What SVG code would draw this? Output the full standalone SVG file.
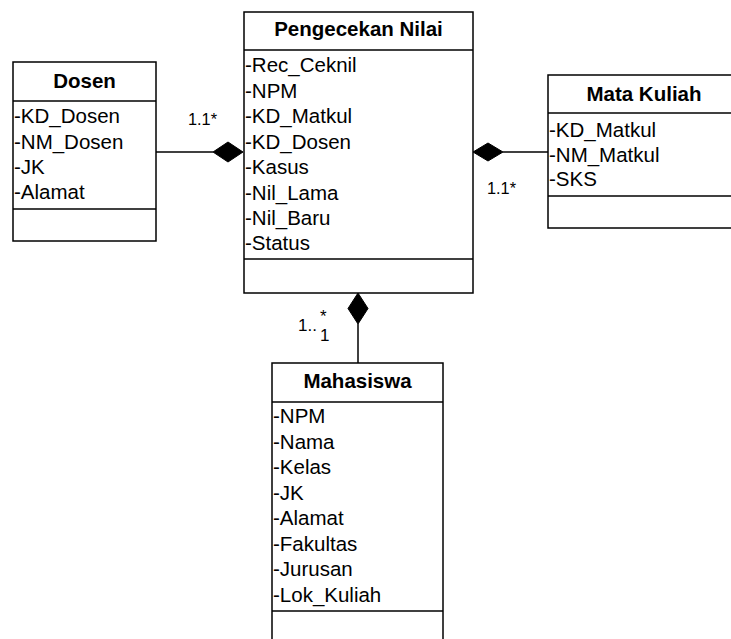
<svg xmlns="http://www.w3.org/2000/svg" width="731" height="639" viewBox="0 0 731 639">
<style>
.box{fill:#fff;stroke:#000;stroke-width:1.5}
.sep{stroke:#000;stroke-width:1.5}
.t{font-family:"Liberation Sans",Arial,sans-serif;font-size:20.5px;font-weight:bold;text-anchor:middle;fill:#000}
.a{font-family:"Liberation Sans",Arial,sans-serif;font-size:20.5px;fill:#000}
.m{font-family:"Liberation Sans",Arial,sans-serif;font-size:17px;fill:#000}
.ln{stroke:#000;stroke-width:1.5;fill:none}
.dia{fill:#000;stroke:#000;stroke-width:1}
</style>
<rect width="731" height="639" fill="#fff"/>
<g id="connectors">
<line class="ln" x1="156" y1="152" x2="213" y2="152"/>
<polygon class="dia" points="213,152 228,142 243,152 228,162"/>
<line class="ln" x1="503" y1="152" x2="548" y2="152"/>
<polygon class="dia" points="473,152 488,143 503,152 488,161"/>
<line class="ln" x1="358" y1="324" x2="358" y2="363"/>
<polygon class="dia" points="358,293 368,308.5 358,324 348,308.5"/>
<text class="m" x="188" y="125" textLength="29" lengthAdjust="spacingAndGlyphs">1.1*</text>
<text class="m" x="487" y="194" textLength="29" lengthAdjust="spacingAndGlyphs">1.1*</text>
<text class="m" x="298" y="331">1..</text>
<text class="m" x="320" y="322">*</text>
<text class="m" x="320" y="341">1</text>
</g>
<g id="dosen">
<rect class="box" x="13" y="62" width="143" height="179"/>
<line class="sep" x1="13" y1="101" x2="156" y2="101"/>
<line class="sep" x1="13" y1="209" x2="156" y2="209"/>
<text class="t" x="84.5" y="88">Dosen</text>
<text class="a" x="14" y="123">-KD_Dosen</text>
<text class="a" x="14" y="148.5">-NM_Dosen</text>
<text class="a" x="14" y="174">-JK</text>
<text class="a" x="14" y="199">-Alamat</text>
</g>
<g id="pengecekan-nilai">
<rect class="box" x="244" y="12" width="229" height="281"/>
<line class="sep" x1="244" y1="50" x2="473" y2="50"/>
<line class="sep" x1="244" y1="259" x2="473" y2="259"/>
<text class="t" x="358.5" y="36">Pengecekan Nilai</text>
<text class="a" x="245" y="72">-Rec_Ceknil</text>
<text class="a" x="245" y="97.5">-NPM</text>
<text class="a" x="245" y="123">-KD_Matkul</text>
<text class="a" x="245" y="148.5">-KD_Dosen</text>
<text class="a" x="245" y="174">-Kasus</text>
<text class="a" x="245" y="199.5">-Nil_Lama</text>
<text class="a" x="245" y="225">-Nil_Baru</text>
<text class="a" x="245" y="250">-Status</text>
</g>
<g id="mata-kuliah">
<rect class="box" x="548" y="75" width="192" height="153"/>
<line class="sep" x1="548" y1="113" x2="740" y2="113"/>
<line class="sep" x1="548" y1="196" x2="740" y2="196"/>
<text class="t" x="644" y="101">Mata Kuliah</text>
<text class="a" x="549" y="137">-KD_Matkul</text>
<text class="a" x="549" y="162">-NM_Matkul</text>
<text class="a" x="549" y="186">-SKS</text>
</g>
<g id="mahasiswa">
<rect class="box" x="272" y="363" width="171" height="290"/>
<line class="sep" x1="272" y1="402" x2="443" y2="402"/>
<line class="sep" x1="272" y1="611" x2="443" y2="611"/>
<text class="t" x="357.5" y="388">Mahasiswa</text>
<text class="a" x="273" y="423">-NPM</text>
<text class="a" x="273" y="448.5">-Nama</text>
<text class="a" x="273" y="474">-Kelas</text>
<text class="a" x="273" y="499.5">-JK</text>
<text class="a" x="273" y="525">-Alamat</text>
<text class="a" x="273" y="550.5">-Fakultas</text>
<text class="a" x="273" y="576">-Jurusan</text>
<text class="a" x="273" y="601.5">-Lok_Kuliah</text>
</g>
</svg>
